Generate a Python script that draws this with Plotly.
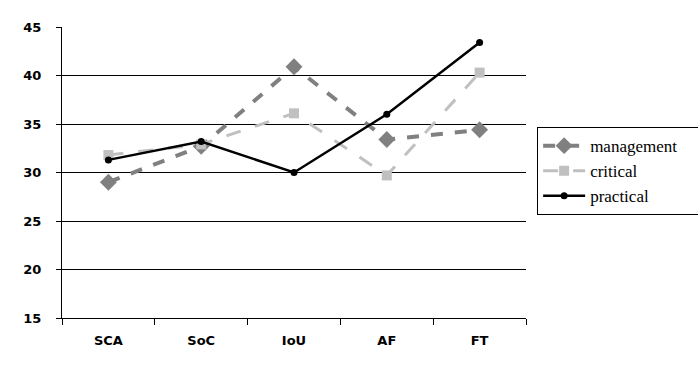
import plotly.graph_objects as go

categories = ["SCA", "SoC", "IoU", "AF", "FT"]
management = [29.0, 32.7, 40.9, 33.4, 34.4]
critical = [31.8, 32.9, 36.1, 29.7, 40.3]
practical = [31.3, 33.2, 30.0, 36.0, 43.4]
y_ticks = [15, 20, 25, 30, 35, 40, 45]
series_names = ["management\u00a0\u00a0\u00a0\u00a0", "critical", "practical"]

fig = go.Figure()
fig.add_trace(go.Scatter(
    x=categories, y=management, name=series_names[0], mode="lines+markers",
    line=dict(color="#808080", width=4, dash="dash"),
    marker=dict(symbol="diamond", size=13, color="#808080"),
    legendgroup="a"))
fig.add_trace(go.Scatter(
    x=categories, y=critical, name=series_names[1], mode="lines+markers",
    line=dict(color="#c0c0c0", width=3, dash="longdash"),
    marker=dict(symbol="square", size=10, color="#c0c0c0"),
    legendgroup="b"))
fig.add_trace(go.Scatter(
    x=categories, y=practical, name=series_names[2], mode="lines+markers",
    line=dict(color="#000000", width=2.5),
    marker=dict(symbol="circle", size=7, color="#000000"),
    legendgroup="c"))

fig.update_layout(
    width=698, height=368,
    margin=dict(l=62, r=172, t=27, b=50, autoexpand=False),
    paper_bgcolor="white", plot_bgcolor="white",
    font=dict(family="DejaVu Sans", size=13, color="black"),
    showlegend=True,
    legend=dict(
        x=1.024, y=0.656, xanchor="left", yanchor="top",
        bordercolor="black", borderwidth=1,
        font=dict(family="Liberation Serif", size=17, color="black"),
        tracegroupgap=10, traceorder="normal", itemwidth=42,
    ),
)
fig.update_xaxes(
    type="category", range=[-0.5, 4.5],
    showline=True, linecolor="black", linewidth=1,
    ticks="outside", tickson="boundaries", ticklen=6, tickcolor="black",
    showgrid=False, zeroline=False, ticklabelstandoff=10,
    tickfont=dict(family="DejaVu Sans", size=13, color="black", weight="bold"),
)
fig.update_yaxes(
    range=[15, 45], tickvals=y_ticks,
    showline=True, linecolor="black", linewidth=1,
    ticks="outside", ticklen=5, tickcolor="black",
    showgrid=True, gridcolor="black", gridwidth=1, zeroline=False,
    ticklabelstandoff=12,
    tickfont=dict(family="DejaVu Sans", size=13, color="black", weight="bold"),
)

fig.write_html("out.html")
